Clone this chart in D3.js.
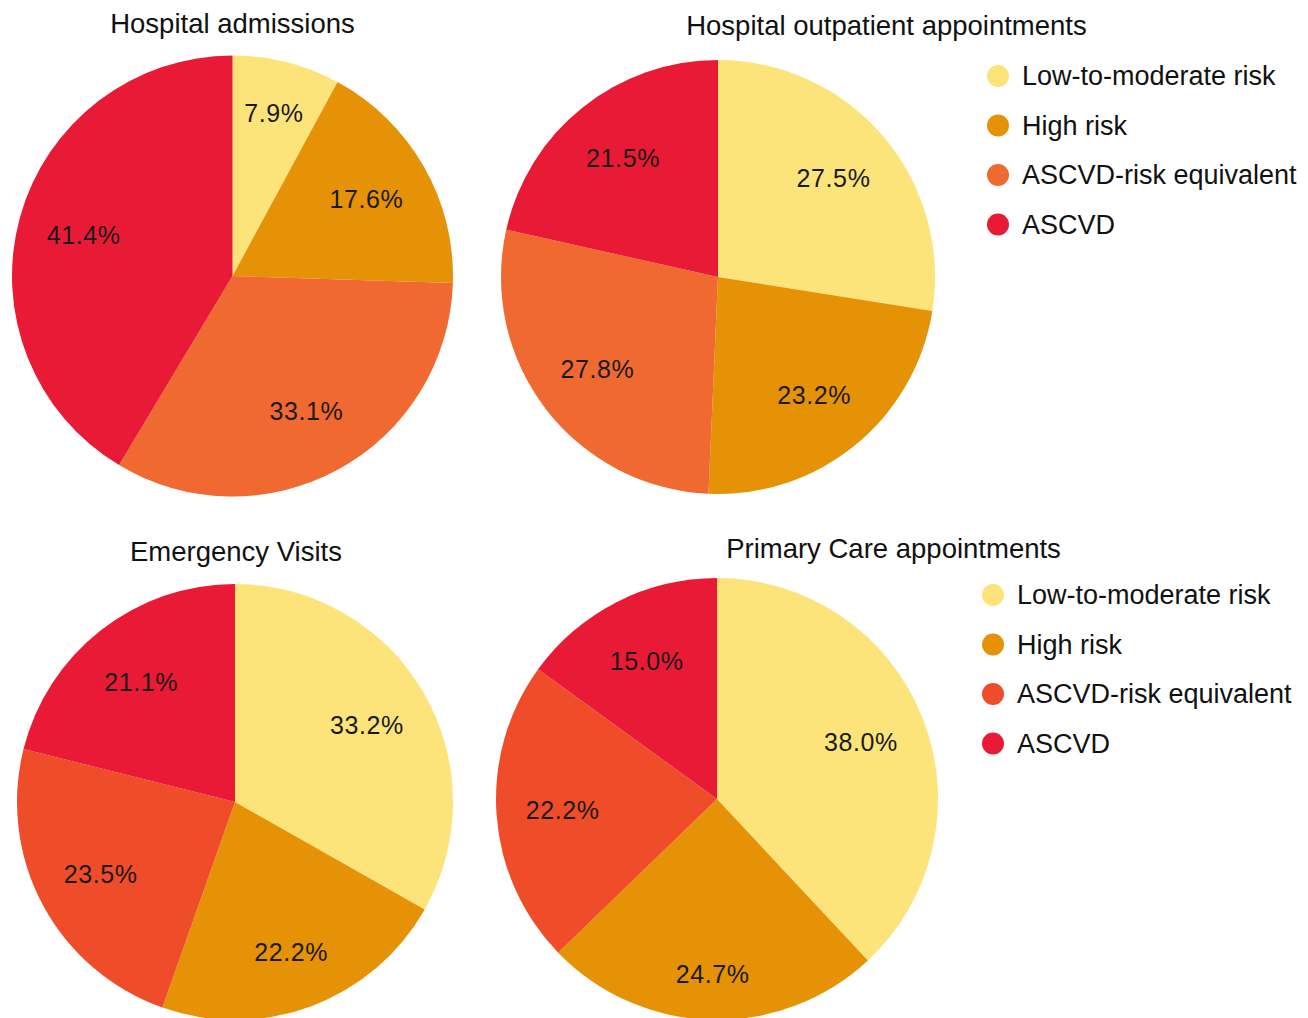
<!DOCTYPE html>
<html>
<head>
<meta charset="utf-8">
<script src="https://cdn.jsdelivr.net/npm/d3@7"></script>
<style>
  html, body { margin: 0; padding: 0; background: #fff; }
  text { font-family: "Liberation Sans", Arial, sans-serif; }
</style>
</head>
<body>
<svg id="chart" width="1308" height="1018"></svg>
<script>
const categories = ["Low-to-moderate risk", "High risk", "ASCVD-risk equivalent", "ASCVD"];
const panelTitles = ["Hospital admissions", "Hospital outpatient appointments", "Emergency Visits", "Primary Care appointments"];
const hospitalAdmissions = [7.9, 17.6, 33.1, 41.4];
const hospitalOutpatient = [27.5, 23.2, 27.8, 21.5];
const emergencyVisits = [33.2, 22.2, 23.5, 21.1];
const primaryCare = [38.0, 24.7, 22.2, 15.0];
const colorsTop = ["#FDE47A", "#E59206", "#F06930", "#E81A35"];
const colorsBottom = ["#FDE47A", "#E59206", "#EF4C29", "#E81A35"];

const svg = d3.select("#chart");

const panels = [
  {title: panelTitles[0], values: hospitalAdmissions, cx: 232.5, cy: 276, r: 220.5, tx: 232.5, ty: 33, colors: colorsTop},
  {title: panelTitles[1], values: hospitalOutpatient, cx: 718, cy: 277, r: 217, tx: 886.5, ty: 35, colors: colorsTop},
  {title: panelTitles[2], values: emergencyVisits, cx: 235, cy: 802, r: 218, tx: 236, ty: 561, colors: colorsBottom},
  {title: panelTitles[3], values: primaryCare, cx: 717, cy: 799, r: 221, tx: 893.5, ty: 558, colors: colorsBottom}
];

const pie = d3.pie().sort(null).value(d => d.v);

panels.forEach(p => {
  const data = p.values.map((v, i) => ({v, c: categories[i], i}));
  const color = d3.scaleOrdinal().domain(categories).range(p.colors);
  const arc = d3.arc().innerRadius(0).outerRadius(p.r);
  const g = svg.append("g").attr("transform", `translate(${p.cx},${p.cy})`);
  const arcs = pie(data);
  g.selectAll("path").data(arcs).join("path")
    .attr("d", arc)
    .attr("fill", d => color(d.data.c));
  // labels pushed slightly outward near the vertical axis, as in the reference
  const labelPos = d => {
    const a = (d.startAngle + d.endAngle) / 2;
    const c = Math.cos(a);
    const rr = p.r * 0.7 + Math.max(0, c * c - 0.8) * 100;
    return [Math.sin(a) * rr, -Math.cos(a) * rr];
  };
  g.selectAll("text").data(arcs).join("text")
    .attr("transform", d => `translate(${labelPos(d)})`)
    .attr("text-anchor", "middle")
    .attr("dominant-baseline", "central")
    .attr("font-size", 25)
    .attr("letter-spacing", 0.6)
    .attr("fill", "#1a1a1a")
    .text(d => d.data.v.toFixed(1) + "%");
  svg.append("text")
    .attr("x", p.tx).attr("y", p.ty)
    .attr("text-anchor", "middle")
    .attr("font-size", 27.5)
    .attr("fill", "#111")
    .text(p.title);
});

const legends = [
  {x: 998, y: 76, colors: colorsTop},
  {x: 993, y: 595, colors: colorsBottom}
];
const legendStep = d3.scalePoint().domain(categories).range([0, 148.5]);
legends.forEach(L => {
  const color = d3.scaleOrdinal().domain(categories).range(L.colors);
  const g = svg.append("g").attr("transform", `translate(${L.x},${L.y})`);
  const item = g.selectAll("g").data(categories).join("g")
    .attr("transform", d => `translate(0,${legendStep(d)})`);
  item.append("circle").attr("r", 11).attr("fill", d => color(d));
  item.append("text").attr("x", 24).attr("y", 0)
    .attr("dominant-baseline", "central")
    .attr("font-size", 27)
    .attr("fill", "#111")
    .text(d => d);
});
</script>
</body>
</html>
